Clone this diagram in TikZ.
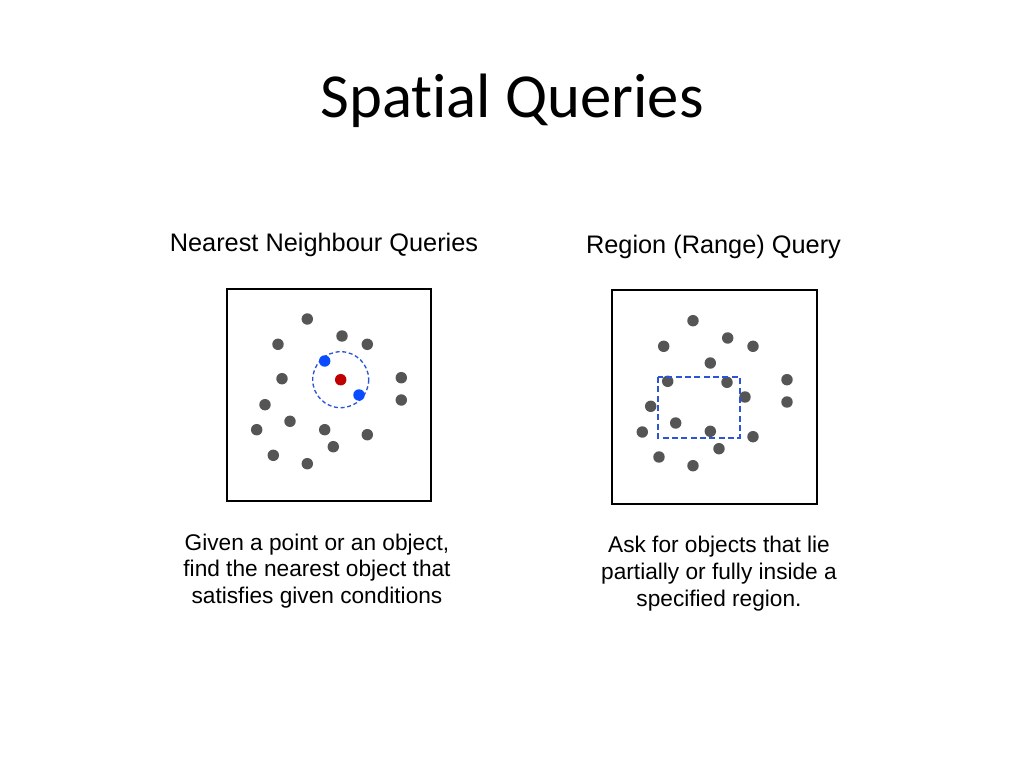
\documentclass[tikz,border=0pt]{standalone}
\usepackage{fontspec}
\setmainfont{Liberation Sans}
\newfontfamily\titlefont[Ligatures=NoCommon]{Carlito}
\definecolor{dotgray}{HTML}{555555}
\definecolor{nnblue}{HTML}{0A4BFF}
\definecolor{nnred}{HTML}{C00000}
\definecolor{dashblue}{HTML}{2A55D6}
\begin{document}
\begin{tikzpicture}[x=0.75pt,y=-0.75pt,
  dot/.style={circle,fill=dotgray,inner sep=0pt,minimum size=8.6pt},
  bluedot/.style={dot,fill=nnblue},
  reddot/.style={dot,fill=nnred},
  frame/.style={draw=black,line width=2pt},
  label/.style={font=\fontsize{19}{22}\selectfont,inner sep=0pt},
  body/.style={font=\fontsize{17}{20}\selectfont,align=center,inner sep=0pt},
  zone/.style={draw=dashblue,dashed,line width=1.5pt,dash pattern=on 4.5pt off 2.5pt}]
\useasboundingbox (0,0) rectangle (1024,768);
\node[font=\titlefont\fontsize{47}{50}\selectfont,inner sep=0pt] (title) at (512,101) {Spatial Queries};
\node[label] (nnlabel) at (324,245) {Nearest Neighbour Queries};
\node[label] (rglabel) at (713.5,247) {Region (Range) Query};
% left frame
\draw[frame] (227,289) rectangle (431,501);
\foreach \x/\y [count=\i] in {307.3/319,342/336,278/344.3,367.3/344.3,282/378.7,401.3/377.7,401.3/400,265/404.7,290/421.3,256.7/429.7,324.7/429.7,367.3/434.7,333.3/446.7,273.3/455.3,307.3/463.7}
  \node[dot] (l\i) at (\x,\y) {};
\draw[zone,dash pattern=on 3pt off 2pt,line width=1pt] (340.7,379.7) circle[radius=28];
\node[reddot] (q) at (340.7,379.7) {};
\node[bluedot] (n1) at (324.7,361) {};
\node[bluedot] (n2) at (359,395) {};
% right frame
\draw[frame] (612,290) rectangle (817,504);
\foreach \x/\y [count=\i] in {693/320.7,727.7/338,663.7/346.3,753/346.3,710.3/363,667.7/381.3,727/382.3,787/379.7,745/397,787/402,650.7/406.3,675.7/423,642.3/432,710.3/431.3,753/436.7,719/448.7,659/457,693/465.7}
  \node[dot] (r\i) at (\x,\y) {};
\draw[zone] (658.3,377) rectangle (739.7,438);
\node[body] (nntext) at (317,571) {Given a point or an object,\\find the nearest object that\\satisfies given conditions};
\node[body] (rgtext) at (719,573.5) {Ask for objects that lie\\partially or fully inside a\\specified region.};
\end{tikzpicture}
\end{document}
